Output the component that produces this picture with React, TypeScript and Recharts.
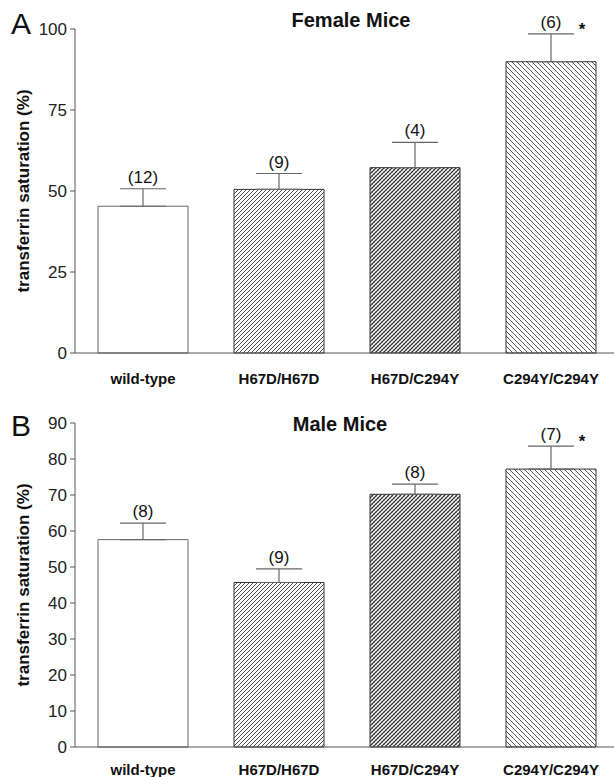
import React from "react";
import {
  ComposedChart,
  Bar,
  Line,
  XAxis,
  YAxis,
  ErrorBar,
  LabelList,
  Cell,
} from "recharts";

const genotypes = ["wild-type", "H67D/H67D", "H67D/C294Y", "C294Y/C294Y"];

const femaleMean = [45.3, 50.5, 57.2, 89.9];
const femaleSem = [5.4, 4.9, 7.8, 8.6];
const femaleN = [12, 9, 4, 6];
const femaleSig = [false, false, false, true];
const femaleTicks = [0, 25, 50, 75, 100];

const maleMean = [57.6, 45.7, 70.2, 77.2];
const maleSem = [4.6, 3.8, 2.8, 6.4];
const maleN = [8, 9, 8, 7];
const maleSig = [false, false, false, true];
const maleTicks = [0, 10, 20, 30, 40, 50, 60, 70, 80, 90];

const FONT = "'Liberation Sans', Arial, Helvetica, sans-serif";
const fills = ["#ffffff", "fwd", "cross", "back"];

function buildRows(mean: number[], sem: number[], n: number[], sig: boolean[]) {
  return genotypes.map((g, i) => ({
    genotype: g,
    mean: mean[i],
    err: [0, sem[i]],
    top: mean[i] + sem[i],
    n: n[i],
    sig: sig[i],
  }));
}

function Patterns({ id }: { id: string }) {
  return (
    <defs>
      <pattern id={`${id}-fwd`} width="4" height="4" patternUnits="userSpaceOnUse">
        <rect width="4" height="4" fill="#fff" />
        <path d="M-1,1 L1,-1 M0,4 L4,0 M3,5 L5,3" stroke="#3a3a3a" strokeWidth="0.9" />
      </pattern>
      <pattern id={`${id}-cross`} width="4" height="4" patternUnits="userSpaceOnUse">
        <rect width="4" height="4" fill="#fff" />
        <path d="M-1,3 L1,5 M0,0 L4,4 M3,-1 L5,1" stroke="#aaa" strokeWidth="0.9" />
        <path d="M-1,1 L1,-1 M0,4 L4,0 M3,5 L5,3" stroke="#222" strokeWidth="1.1" />
      </pattern>
      <pattern id={`${id}-back`} width="5" height="5" patternUnits="userSpaceOnUse">
        <rect width="5" height="5" fill="#fff" />
        <path d="M-1,4 L1,6 M0,0 L5,5 M4,-1 L6,1" stroke="#555" strokeWidth="1" />
      </pattern>
    </defs>
  );
}

function YLabel(props: any) {
  const vb = props.viewBox || {};
  const cy = vb.y + vb.height / 2;
  return (
    <text
      x={23}
      y={cy}
      transform={`rotate(-90, 23, ${cy})`}
      textAnchor="middle"
      dominantBaseline="central"
      fontFamily={FONT}
      fontWeight="bold"
      fontSize={17}
      fill="#111"
    >
      transferrin saturation (%)
    </text>
  );
}

function makeCountLabel(rows: any[]) {
  return (props: any) => {
    const { x, y, value, index } = props;
    return (
      <g>
        <text x={x} y={y - 6} textAnchor="middle" fontFamily={FONT} fontSize={17} fill="#111">
          ({value})
        </text>
        {rows[index].sig && (
          <text x={x + 31} y={y + 1} textAnchor="middle" fontFamily={FONT} fontWeight="bold" fontSize={17} fill="#111">
            *
          </text>
        )}
      </g>
    );
  };
}

interface PanelProps {
  id: string;
  rows: any[];
  ticks: number[];
  height: number;
  top: number;
  xHeight: number;
  xMargin: number;
}

function Panel({ id, rows, ticks, height, top, xHeight, xMargin }: PanelProps) {
  return (
    <ComposedChart
      width={620}
      height={height}
      data={rows}
      margin={{ top, right: 1, bottom: 0, left: 0 }}
      barCategoryGap={23}
    >
      <Patterns id={id} />
      <XAxis
        dataKey="genotype"
        interval={0}
        height={xHeight}
        tickLine={false}
        tickSize={0}
        tickMargin={xMargin}
        axisLine={{ stroke: "#555" }}
        tick={{ fontSize: 15, fontWeight: "bold", fill: "#111", fontFamily: FONT }}
      />
      <YAxis
        type="number"
        domain={[ticks[0], ticks[ticks.length - 1]]}
        ticks={ticks}
        interval={0}
        width={75}
        tickSize={5}
        tickMargin={3}
        axisLine={{ stroke: "#555" }}
        tickLine={{ stroke: "#555" }}
        tick={{ fontSize: 17, fill: "#222", fontFamily: FONT }}
        label={<YLabel />}
      />
      <Bar dataKey="mean" isAnimationActive={false} stroke="#444" strokeWidth={1}>
        {rows.map((r, i) => (
          <Cell key={r.genotype} fill={i === 0 ? fills[0] : `url(#${id}-${fills[i]})`} stroke={i === 0 ? "#666" : "#333"} />
        ))}
        <ErrorBar dataKey="err" direction="y" width={23} stroke="#666" strokeWidth={1.2} />
      </Bar>
      <Line
        dataKey="top"
        stroke="none"
        dot={false}
        activeDot={false}
        legendType="none"
        isAnimationActive={false}
      >
        <LabelList dataKey="n" content={makeCountLabel(rows)} />
      </Line>
    </ComposedChart>
  );
}

export default function App() {
  const female = buildRows(femaleMean, femaleSem, femaleN, femaleSig);
  const male = buildRows(maleMean, maleSem, maleN, maleSig);
  return (
    <div
      style={{
        position: "absolute",
        left: 0,
        top: 0,
        width: 614,
        height: 777,
        overflow: "hidden",
        background: "#fff",
        fontFamily: FONT,
      }}
    >
      <div style={{ position: "absolute", left: 0, top: 0 }}>
        <Panel id="f" rows={female} ticks={femaleTicks} height={390} top={29} xHeight={37} xMargin={20} />
      </div>
      <div style={{ position: "absolute", left: 0, top: 380 }}>
        <Panel id="m" rows={male} ticks={maleTicks} height={397} top={43} xHeight={30} xMargin={17} />
      </div>
      <svg
        width={614}
        height={777}
        style={{ position: "absolute", left: 0, top: 0, pointerEvents: "none" }}
      >
        <text x={11} y={34} fontFamily={FONT} fontSize={30} fill="#111">A</text>
        <text x={351} y={27} textAnchor="middle" fontFamily={FONT} fontWeight="bold" fontSize={20} fill="#111">
          Female Mice
        </text>
        <text x={11} y={436} fontFamily={FONT} fontSize={30} fill="#111">B</text>
        <text x={340} y={431} textAnchor="middle" fontFamily={FONT} fontWeight="bold" fontSize={20} fill="#111">
          Male Mice
        </text>
      </svg>
    </div>
  );
}
